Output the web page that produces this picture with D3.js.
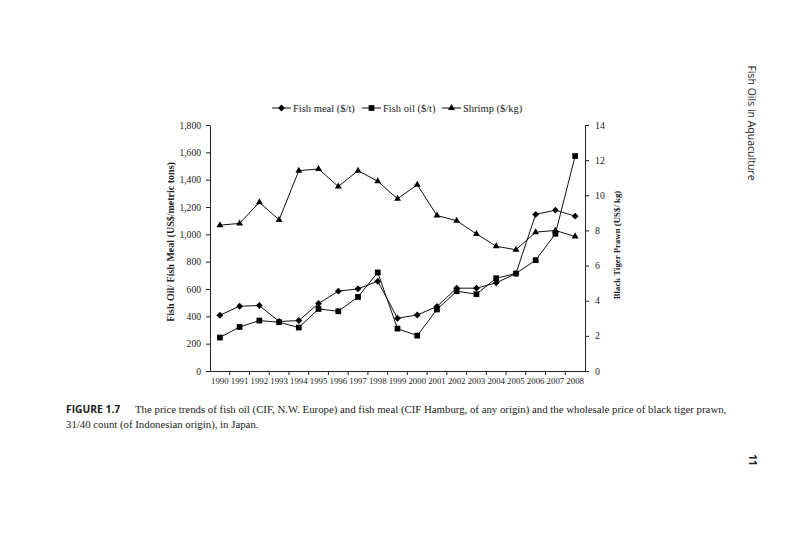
<!DOCTYPE html>
<html>
<head>
<meta charset="utf-8">
<script src="https://cdn.jsdelivr.net/npm/d3@7"></script>
<style>
  body { margin: 0; background: #fff; }
  svg text { fill: #222; }
</style>
</head>
<body>
<div id="svgDiv"></div>
<script>
var width = 800, height = 535;

// data
var years = ["1990","1991","1992","1993","1994","1995","1996","1997","1998","1999",
             "2000","2001","2002","2003","2004","2005","2006","2007","2008"];
var fishMeal = [408, 474, 479, 362, 369, 494, 584, 601, 657, 386,
                410, 472, 606, 606, 645, 713, 1146, 1177, 1133];
var fishOil = [245, 322, 369, 357, 318, 454, 437, 542, 721, 310,
               259, 450, 584, 562, 679, 713, 811, 1004, 1573];
var shrimp = [8.3, 8.4, 9.6, 8.6, 11.4, 11.5, 10.5, 11.4, 10.8, 9.8,
              10.6, 8.85, 8.55, 7.8, 7.1, 6.9, 7.9, 8.0, 7.65];
var leftTicks = [0, 200, 400, 600, 800, 1000, 1200, 1400, 1600, 1800];
var rightTicks = [0, 2, 4, 6, 8, 10, 12, 14];

var serif = "'Liberation Serif', 'DejaVu Serif', serif";
var sans = "'Open Sans', 'Noto Sans', sans-serif";

var svg = d3.select("#svgDiv").append("svg")
  .attr("width", width)
  .attr("height", height);

// plot box (window.top is read-only, so avoid that name)
var plotL = 210, plotR = 585, plotT = 125, plotB = 371;

var x = d3.scaleBand().domain(years).range([plotL, plotR]);
var yL = d3.scaleLinear().domain([0, 1800]).range([plotB, plotT]);
var yR = d3.scaleLinear().domain([0, 14]).range([plotB, plotT]);

// left axis
var gL = svg.append("g")
  .attr("transform", "translate(" + plotL + ",0)")
  .call(d3.axisLeft(yL).tickValues(leftTicks).tickFormat(d3.format(","))
    .tickSizeInner(4).tickSizeOuter(0).tickPadding(5));
gL.selectAll("text").style("font-family", serif).style("font-size", "9.6px");

// right axis
var gR = svg.append("g")
  .attr("transform", "translate(" + plotR + ",0)")
  .call(d3.axisRight(yR).tickValues(rightTicks)
    .tickSizeInner(4).tickSizeOuter(0).tickPadding(6));
gR.selectAll("text").style("font-family", serif).style("font-size", "9.8px");

// bottom axis: labels centred in bands, ticks on band edges
var gB = svg.append("g")
  .attr("transform", "translate(0," + plotB + ")")
  .call(d3.axisBottom(x).tickSizeInner(0).tickSizeOuter(0).tickPadding(7));
gB.selectAll("text").style("font-family", serif).style("font-size", "8.8px");

svg.append("g").selectAll("line")
  .data(years.slice(1)).enter()
  .append("line")
  .attr("x1", function(d) { return x(d); })
  .attr("x2", function(d) { return x(d); })
  .attr("y1", plotB)
  .attr("y2", plotB + 4)
  .attr("stroke", "#222");

svg.selectAll(".domain").attr("stroke", "#222");
svg.selectAll(".tick line").attr("stroke", "#222");

// axis titles
svg.append("text")
  .attr("transform", "translate(174,242) rotate(-90)")
  .attr("text-anchor", "middle")
  .style("font-family", serif).style("font-weight", "bold").style("font-size", "10px")
  .text("Fish Oil/ Fish Meal (US$/metric tons)");

svg.append("text")
  .attr("transform", "translate(620,245) rotate(-90)")
  .attr("text-anchor", "middle")
  .style("font-family", serif).style("font-weight", "bold").style("font-size", "8.8px")
  .text("Black Tiger Prawn (US$/ kg)");

function cx(d, i) { return x(years[i]) + x.bandwidth() / 2; }

var lineL = d3.line().x(function(d, i) { return cx(d, i); }).y(function(d) { return yL(d); });
var lineR = d3.line().x(function(d, i) { return cx(d, i); }).y(function(d) { return yR(d); });

var series = [
  {name: "Fish meal ($/t)", values: fishMeal, line: lineL, y: yL, shape: d3.symbolDiamond2, size: 30},
  {name: "Fish oil ($/t)", values: fishOil, line: lineL, y: yL, shape: d3.symbolSquare2, size: 42},
  {name: "Shrimp ($/kg)", values: shrimp, line: lineR, y: yR, shape: d3.symbolTriangle2, size: 34}
];

series.forEach(function(s) {
  svg.append("path")
    .datum(s.values)
    .attr("fill", "none")
    .attr("stroke", "#111")
    .attr("stroke-width", 1)
    .attr("d", s.line);

  svg.append("g").selectAll("path")
    .data(s.values).enter()
    .append("path")
    .attr("transform", function(d, i) { return "translate(" + cx(d, i) + "," + s.y(d) + ")"; })
    .attr("d", d3.symbol().type(s.shape).size(s.size))
    .attr("fill", "#000")
    .attr("stroke", "none");
});

// legend
var legX = [272, 362, 442];
var legend = svg.append("g");
series.forEach(function(s, i) {
  var g = legend.append("g").attr("transform", "translate(" + legX[i] + ",108)");
  g.append("line").attr("x1", 0).attr("x2", 19).attr("stroke", "#111");
  g.append("path").attr("transform", "translate(9.5,0)")
    .attr("d", d3.symbol().type(s.shape).size(s.size))
    .attr("fill", "#000");
  g.append("text").attr("x", 21).attr("y", 3.5)
    .style("font-family", serif).style("font-size", "10.5px")
    .text(s.name);
});

// page furniture
svg.append("text")
  .attr("transform", "translate(748,123) rotate(90)")
  .attr("text-anchor", "middle")
  .style("font-family", sans).style("font-size", "10.5px")
  .text("Fish Oils in Aquaculture");

svg.append("text")
  .attr("transform", "translate(749,460) rotate(90)")
  .attr("text-anchor", "middle")
  .style("font-family", sans).style("font-weight", "bold").style("font-size", "10px")
  .text("11");

var cap = svg.append("text")
  .style("font-family", serif).style("font-size", "10.8px");
cap.append("tspan").attr("x", 66).attr("y", 413)
  .style("font-family", sans).style("font-weight", "bold").style("font-size", "10.3px")
  .text("FIGURE 1.7");
cap.append("tspan").attr("x", 135).attr("y", 413)
  .text("The price trends of fish oil (CIF, N.W. Europe) and fish meal (CIF Hamburg, of any origin) and the wholesale price of black tiger prawn,");
cap.append("tspan").attr("x", 66).attr("y", 428)
  .text("31/40 count (of Indonesian origin), in Japan.");
</script>
</body>
</html>
